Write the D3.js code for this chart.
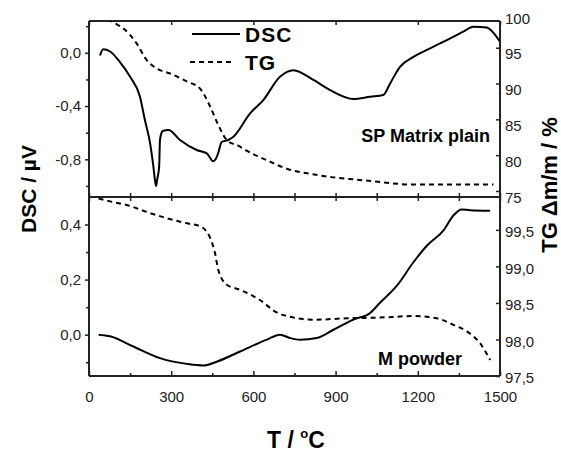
<!DOCTYPE html>
<html>
<head>
<meta charset="utf-8">
<script src="https://cdn.jsdelivr.net/npm/d3@7"></script>
<style>
  body { margin: 0; background: #fff; }
  svg { display: block; font-family: "Liberation Sans", Arial, sans-serif; }
  .tick text { font-size: 15px; fill: #222; }
  .domain { display: none; }
</style>
</head>
<body>
<svg width="561" height="453"></svg>
<script>
// temperature axis
var xTicks = [0, 300, 600, 900, 1200, 1500];
var xMinor = [150, 450, 750, 1050, 1350];

// SP Matrix plain (upper panel)
var topDscT = [40, 52, 77, 113, 150, 186, 204, 223, 235, 241, 245, 249, 256, 259, 265, 271, 290, 332, 393, 430, 454, 462, 472, 484, 508, 527, 588, 636, 697, 746, 819, 880, 965, 1026, 1074, 1099, 1135, 1184, 1245, 1306, 1366, 1403, 1452, 1480, 1500];
var topDscV = [-0.02, 0.026, 0.01, -0.07, -0.18, -0.33, -0.505, -0.68, -0.855, -0.96, -1.0, -0.95, -0.855, -0.655, -0.6, -0.585, -0.58, -0.655, -0.73, -0.755, -0.815, -0.8, -0.75, -0.67, -0.655, -0.63, -0.455, -0.355, -0.18, -0.13, -0.204, -0.28, -0.347, -0.33, -0.317, -0.23, -0.105, -0.03, 0.034, 0.096, 0.159, 0.196, 0.19, 0.14, 0.083];
var topTgT = [40, 95, 125, 174, 210, 247, 296, 357, 405, 442, 472, 503, 551, 563, 649, 722, 807, 892, 1001, 1184, 1476];
var topTgV = [99.6, 98.4, 97.7, 95.6, 93.3, 92.1, 91.4, 90.3, 89.3, 86.8, 84.2, 82.1, 81.2, 80.9, 79.3, 78.1, 77.4, 76.9, 76.5, 75.9, 75.9];
var topDscTicks = [0, -0.4, -0.8];
var topDscMinor = [0.2, -0.2, -0.6, -1.0];
var topTgTicks = [75, 80, 85, 90, 95, 100];

// M powder (lower panel)
var botDscT = [35, 77, 162, 259, 357, 417, 466, 551, 649, 697, 734, 770, 831, 892, 965, 1026, 1062, 1123, 1184, 1233, 1293, 1330, 1360, 1391, 1464];
var botDscV = [0.0, -0.006, -0.043, -0.085, -0.106, -0.112, -0.098, -0.061, -0.018, 0.0, -0.012, -0.018, -0.012, 0.018, 0.055, 0.079, 0.116, 0.177, 0.263, 0.323, 0.378, 0.433, 0.455, 0.452, 0.45];
var botTgT = [35, 77, 138, 223, 284, 357, 405, 442, 460, 472, 503, 551, 624, 685, 734, 819, 941, 1062, 1184, 1269, 1330, 1379, 1427, 1464];
var botTgV = [99.93, 99.89, 99.84, 99.73, 99.66, 99.59, 99.55, 99.39, 99.18, 98.95, 98.75, 98.68, 98.54, 98.37, 98.31, 98.27, 98.29, 98.30, 98.32, 98.29, 98.20, 98.11, 97.95, 97.72];
var botDscTicks = [0, 0.2, 0.4];
var botDscMinor = [-0.1, 0.1, 0.3];
var botTgTicks = [97.5, 98.0, 98.5, 99.0, 99.5];

var L = 89, R = 500, T = 21, M = 197, B = 376;
var svg = d3.select("svg");
var comma = d => d3.format(".1f")(d).replace(".", ",").replace("\u2212", "-");

var x = d3.scaleLinear().domain([0, 1500]).range([L, R]);
var yTopDsc = d3.scaleLinear().domain([-1.083, 0.239]).range([M, T]);
var yTopTg = d3.scaleLinear().domain([74.16, 98.73]).range([M, T]);
var yBotDsc = d3.scaleLinear().domain([-0.15, 0.5]).range([B, M]);
var yBotTg = d3.scaleLinear().domain([97.5, 99.95]).range([B, M]);

svg.append("defs").selectAll("clipPath")
    .data([["cTop", T, M], ["cBot", M, B]])
    .enter().append("clipPath").attr("id", d => d[0])
    .append("rect").attr("x", L).attr("y", d => d[1]).attr("width", R - L).attr("height", d => d[2] - d[1]);

function axis(a, tr) {
    var g = svg.append("g").attr("transform", tr).call(a);
    g.selectAll(".tick line").attr("stroke", "#222").attr("stroke-width", 1.5);
    return g;
}

// x ticks on every horizontal frame line
axis(d3.axisBottom(x).tickValues(xTicks).tickSize(-5).tickPadding(15).tickFormat(d3.format("d")), "translate(0," + B + ")");
axis(d3.axisBottom(x).tickValues(xMinor).tickSize(-3).tickFormat(""), "translate(0," + B + ")");
axis(d3.axisTop(x).tickValues(xTicks.concat(xMinor)).tickSize(-4).tickFormat(""), "translate(0," + M + ")");
axis(d3.axisBottom(x).tickValues(xTicks.concat(xMinor)).tickSize(-4).tickFormat(""), "translate(0," + M + ")");
axis(d3.axisTop(x).tickValues(xTicks).tickSize(-4).tickFormat(""), "translate(0," + T + ")");

// left DSC axes
axis(d3.axisLeft(yTopDsc).tickValues(topDscTicks).tickSize(4).tickPadding(4).tickFormat(comma), "translate(" + L + ",0)");
axis(d3.axisLeft(yTopDsc).tickValues(topDscMinor).tickSize(3).tickFormat(""), "translate(" + L + ",0)");
axis(d3.axisLeft(yBotDsc).tickValues(botDscTicks).tickSize(4).tickPadding(4).tickFormat(comma), "translate(" + L + ",0)");
axis(d3.axisLeft(yBotDsc).tickValues(botDscMinor).tickSize(3).tickFormat(""), "translate(" + L + ",0)");

// right TG axes
var gr = axis(d3.axisRight(yTopTg).tickValues(topTgTicks).tickSize(-4).tickPadding(5).tickFormat(d3.format("d")), "translate(" + R + ",0)");
gr.selectAll(".tick").filter(d => d > 98.73).select("line").remove();
gr.selectAll(".tick text").attr("dy", "0.75em");
var gb = axis(d3.axisRight(yBotTg).tickValues(botTgTicks).tickSize(-4).tickPadding(5).tickFormat(comma), "translate(" + R + ",0)");
gb.selectAll(".tick text").attr("dy", "0.45em");

// frame
svg.append("g").attr("fill", "none").attr("stroke", "#222").attr("stroke-width", 2)
    .selectAll("line")
    .data([[L, T, R, T], [L, M, R, M], [L, B, R, B], [L, T, L, B], [R, T, R, B]])
    .enter().append("line")
    .attr("x1", d => d[0]).attr("y1", d => d[1]).attr("x2", d => d[2]).attr("y2", d => d[3]);

function curve(ts, vs, y, clip, dash) {
    var line = d3.line().x(d => x(d[0])).y(d => y(d[1])).curve(d3.curveMonotoneX);
    svg.append("path")
        .datum(d3.zip(ts, vs))
        .attr("clip-path", "url(#" + clip + ")")
        .attr("d", line)
        .attr("fill", "none")
        .attr("stroke", "#000")
        .attr("stroke-width", 2)
        .attr("stroke-linejoin", "round")
        .attr("stroke-dasharray", dash ? "5,4" : null);
}
curve(topDscT, topDscV, yTopDsc, "cTop", false);
curve(topTgT, topTgV, yTopTg, "cTop", true);
curve(botDscT, botDscV, yBotDsc, "cBot", false);
curve(botTgT, botTgV, yBotTg, "cBot", true);

// legend
var leg = [["DSC", null, 34, 192, 240], ["TG", "5,4", 62, 190, 232]];
leg.forEach(function (d) {
    svg.append("line").attr("x1", d[3]).attr("x2", d[4]).attr("y1", d[2]).attr("y2", d[2])
        .attr("stroke", "#000").attr("stroke-width", 2).attr("stroke-dasharray", d[1]);
    svg.append("text").attr("x", 245).attr("y", d[2] + 8).text(d[0])
        .attr("font-size", 21).attr("font-weight", "bold").attr("letter-spacing", 1);
});

// panel labels
svg.append("text").attr("x", 490).attr("y", 142).attr("text-anchor", "end")
    .attr("font-size", 18).attr("font-weight", "bold").text("SP Matrix plain");
svg.append("text").attr("x", 462).attr("y", 365).attr("text-anchor", "end")
    .attr("font-size", 18).attr("font-weight", "bold").text("M powder");

// axis titles
svg.append("text").attr("transform", "translate(36,189) rotate(-90)").attr("text-anchor", "middle")
    .attr("font-size", 21).attr("font-weight", "bold").text("DSC / µV");
svg.append("text").attr("transform", "translate(557,185) rotate(-90)").attr("text-anchor", "middle")
    .attr("font-size", 22).attr("font-weight", "bold").text("TG \u0394m/m / %");
var xt = svg.append("text").attr("x", 296).attr("y", 448).attr("text-anchor", "middle")
    .attr("font-size", 23).attr("font-weight", "bold");
xt.append("tspan").text("T / ");
xt.append("tspan").attr("font-size", 13).attr("dy", -10).text("o");
xt.append("tspan").attr("dy", 10).text("C");
</script>
</body>
</html>
